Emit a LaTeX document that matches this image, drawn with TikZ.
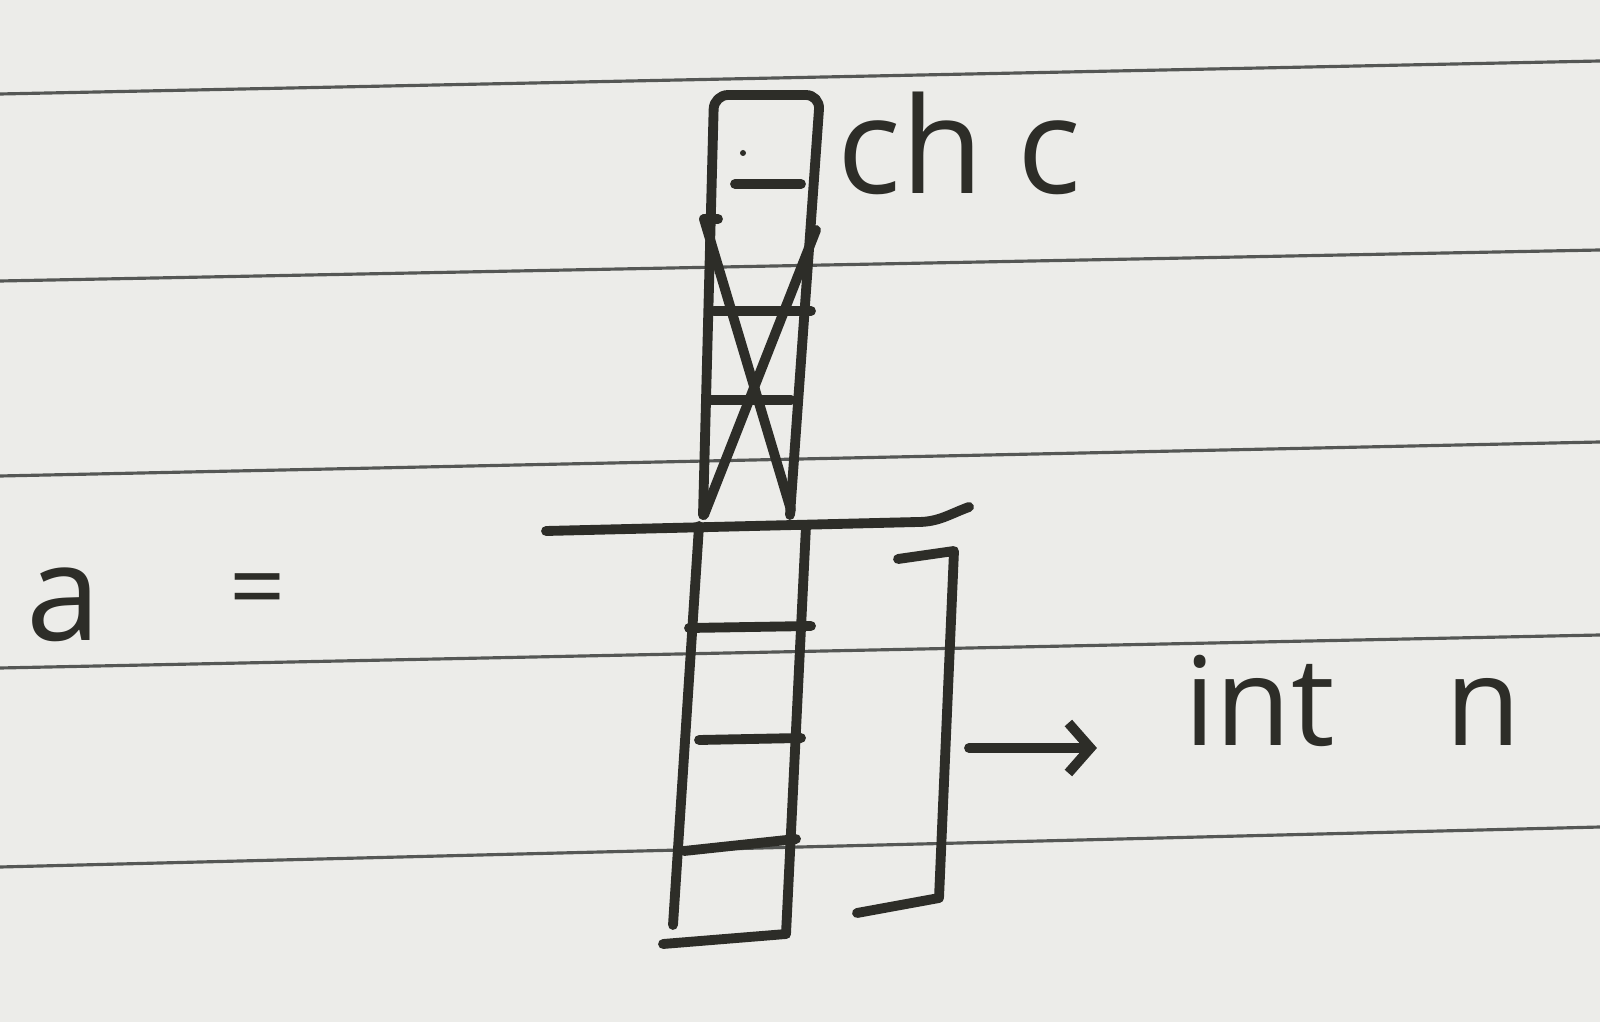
\documentclass[tikz,border=0pt]{standalone}
\usepackage{fontspec}
\setmainfont{Open Sans}
\usetikzlibrary{arrows.meta}

\begin{document}
\begin{tikzpicture}
		[x=0.01cm,y=-0.01cm,line cap=round,line join=round,
		%Styles
		ink/.style={draw=inkcolor,line width=2.8pt},
		ruling/.style={draw=rulecolor,line width=0.9pt},
		hand text/.style={text=inkcolor,inner sep=0pt,anchor=base west},
		big text/.style={hand text,font=\fontsize{38}{38}\selectfont},
		mid text/.style={hand text,font=\fontsize{35}{35}\selectfont}
		]
		
		%Colors
		\definecolor{paper}{RGB}{236,236,233}
		\definecolor{inkcolor}{RGB}{45,45,40}
		\definecolor{rulecolor}{RGB}{85,87,85}
		
		%The paper
		\useasboundingbox (0,0) rectangle (1600,1022);
		\fill[paper] (0,0) rectangle (1600,1022);
		\foreach \yl/\yr in {94/61, 281/250, 476/442, 668/635, 867/827}
			\draw[ruling] (0,\yl) -- (1600,\yr);
		
		%The char cell
		\draw[ink,rounded corners=4] (703,515) -- (714,95) -- (820,95) -- (790,515);
		\draw[ink] (735,184) -- (801,184);
		\fill[inkcolor] (743,153) circle (3);
		\draw[ink] (704,219) -- (718,219);
		\draw[ink] (714,311) -- (811,311);
		\draw[ink] (709,400) -- (791,400);
		\draw[ink] (704,219) -- (791,510);
		\draw[ink] (816,230) -- (704,515);
		
		%The separator
		\draw[ink] (546,531) -- (918,522) to[out=0,in=200] (969,507);
		
		%The int cells
		\draw[ink] (699,526) -- (673,925);
		\draw[ink] (806,526) -- (786,934);
		\draw[ink] (689,628) -- (811,626);
		\draw[ink] (699,740) -- (801,738);
		\draw[ink] (684,851) -- (796,839);
		\draw[ink] (663,944) -- (786,934);
		\draw[ink] (898,559) -- (954,551) -- (939,898) -- (857,913);
		
		%Labels
		\node[big text] (chc) at (837,194) {ch c};
		\node[mid text] (intn) at (1184,745) {int\hspace{0.9em}n};
		\node[big text] (a) at (26,640) {a};
		\node[mid text,anchor=center,font=\fontsize{28}{28}\selectfont] (eq) at (258,598) {=};
		
		\coordinate (tail) at (969,748);
		\draw[ink,-{Straight Barb[length=0.22cm,width=0.5cm]},shorten >=0.87cm] (tail) -- (tail -| intn.west);
	\end{tikzpicture}
\end{document}
